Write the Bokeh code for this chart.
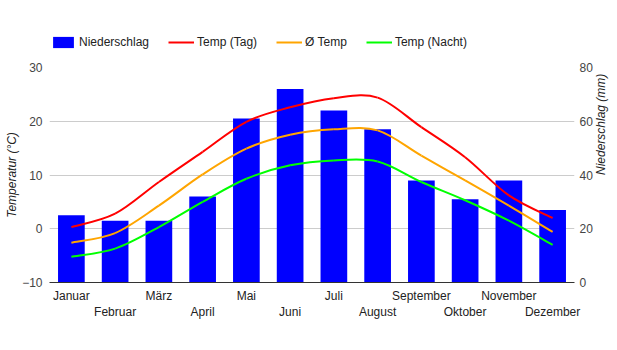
import math
from bokeh.plotting import figure
from bokeh.layouts import column
from bokeh.models import (Range1d, LinearAxis, FixedTicker, Legend, LegendItem,
                          ColumnDataSource, Grid)
from bokeh.embed import file_html
from bokeh.resources import INLINE

months = ["Januar", "Februar", "März", "April", "Mai", "Juni", "Juli",
          "August", "September", "Oktober", "November", "Dezember"]
precip = [25, 23, 23, 32, 61, 72, 64, 57, 38, 31, 38, 27]
temp_day = [0.3, 2.8, 8.7, 14.3, 19.9, 22.6, 24.3, 24.4, 18.9, 13.3, 6.2, 2.0]
temp_avg = [-2.6, -0.8, 4.3, 10.1, 14.9, 17.5, 18.5, 18.3, 13.6, 9.0, 4.3, -0.6]
temp_night = [-5.2, -3.7, 0.3, 5.0, 9.3, 11.8, 12.7, 12.5, 8.7, 5.3, 1.5, -3.0]
temp_ticks = [-10, 0, 10, 20, 30]
precip_ticks = [0, 20, 40, 60, 80]

FONT = "Liberation Sans"
xs = list(range(len(months)))
TOP_H = 59

p = figure(width=617, height=350 - TOP_H, output_backend="svg", toolbar_location=None,
           x_range=Range1d(-0.5, 11.5), y_range=Range1d(-10, 30),
           x_axis_location=None, y_axis_location=None,
           min_border_left=49, min_border_right=39, min_border_top=8,
           min_border_bottom=68)
p.outline_line_color = None
p.background_fill_color = "white"
p.border_fill_color = "white"
p.extra_y_ranges = {"precip": Range1d(0, 80)}
p.xgrid.visible = False
p.ygrid.visible = False

p.add_layout(Grid(dimension=1, ticker=FixedTicker(ticks=temp_ticks[1:]),
                  grid_line_color="#cccccc"))


def style_axis(ax, color="#444444"):
    ax.major_tick_line_color = None
    ax.minor_tick_line_color = None
    ax.major_tick_out = 0
    ax.major_tick_in = 0
    ax.major_label_text_font = FONT
    ax.major_label_text_font_size = "12px"
    ax.major_label_text_color = color
    ax.axis_label_text_font = FONT
    ax.axis_label_text_font_size = "12px"
    ax.axis_label_text_font_style = "italic"
    ax.axis_label_text_color = "#222222"


yl = LinearAxis(ticker=FixedTicker(ticks=temp_ticks), axis_label="Temperatur (°C)")
style_axis(yl)
yl.axis_line_color = None
yl.major_label_standoff = 7
yl.axis_label_standoff = 0
p.add_layout(yl, "left")

yr = LinearAxis(y_range_name="precip", ticker=FixedTicker(ticks=precip_ticks),
                axis_label="Niederschlag (mm)")
style_axis(yr)
yr.axis_line_color = None
yr.major_label_standoff = 5
yr.axis_label_standoff = 5
yr.axis_label_orientation = math.pi / 2
p.add_layout(yr, "right")

even = [i for i in xs if i % 2 == 0]
odd = [i for i in xs if i % 2 == 1]
xa1 = LinearAxis(ticker=FixedTicker(ticks=even),
                 major_label_overrides={i: months[i] for i in even})
style_axis(xa1, "#222222")
xa1.axis_line_color = "#333333"
xa1.axis_line_width = 1
xa1.major_label_standoff = 6
p.add_layout(xa1, "below")

xa2 = LinearAxis(ticker=FixedTicker(ticks=odd),
                 major_label_overrides={i: months[i] for i in odd})
style_axis(xa2, "#222222")
xa2.axis_line_color = None
xa2.major_label_standoff = -1
p.add_layout(xa2, "below")

p.vbar(x=xs, top=precip, bottom=0, width=0.61, y_range_name="precip",
       fill_color="#0000ff", line_color=None)


def bezier_source(x, y, k=1.0):
    n = len(x)
    d = dict(x0=[], y0=[], x1=[], y1=[], cx0=[], cy0=[], cx1=[], cy1=[])
    for i in range(n - 1):
        a = i - 1 if i > 0 else i
        b = i + 2 if i + 2 < n else i + 1
        d["x0"].append(x[i]); d["y0"].append(y[i])
        d["x1"].append(x[i + 1]); d["y1"].append(y[i + 1])
        d["cx0"].append(x[i] + (x[i + 1] - x[a]) / 6 * k)
        d["cy0"].append(y[i] + (y[i + 1] - y[a]) / 6 * k)
        d["cx1"].append(x[i + 1] - (x[b] - x[i]) / 6 * k)
        d["cy1"].append(y[i + 1] - (y[b] - y[i]) / 6 * k)
    return ColumnDataSource(d)


series = [("Temp (Tag)", temp_day, "#ff0000"),
          ("Ø Temp", temp_avg, "#ffa500"),
          ("Temp (Nacht)", temp_night, "#00ff00")]
for label, vals, col in series:
    p.bezier(x0="x0", y0="y0", x1="x1", y1="y1", cx0="cx0", cy0="cy0",
             cx1="cx1", cy1="cy1", source=bezier_source(xs, vals),
             line_color=col, line_width=2)

# legend strip: a separate figure whose (out-of-view) renderers feed the legend
lg = figure(width=617, height=TOP_H, output_backend="svg", toolbar_location=None,
            x_range=Range1d(100, 101), y_range=Range1d(100, 101),
            x_axis_location=None, y_axis_location=None,
            min_border_left=0, min_border_right=0, min_border_top=0,
            min_border_bottom=0)
lg.outline_line_color = None
lg.xgrid.visible = False
lg.ygrid.visible = False
lg.background_fill_color = "white"
lg.border_fill_color = "white"
items = [LegendItem(label="Niederschlag",
                    renderers=[lg.vbar(x=xs, top=precip, width=0.61,
                                       fill_color="#0000ff", line_color=None)])]
for label, vals, col in series:
    items.append(LegendItem(label=label,
                            renderers=[lg.line(x=xs, y=vals, line_color=col,
                                               line_width=2)]))
legend = Legend(items=items, orientation="horizontal", location=(1, 10),
                glyph_width=26, glyph_height=14, label_height=14,
                label_standoff=3, spacing=19,
                padding=0, margin=0, border_line_alpha=0,
                background_fill_alpha=0, label_text_font=FONT,
                label_text_font_size="12px", label_text_color="#222222")
lg.add_layout(legend, "center")

layout = column(lg, p, spacing=0)
open("out.html", "w").write(file_html(layout, INLINE))
